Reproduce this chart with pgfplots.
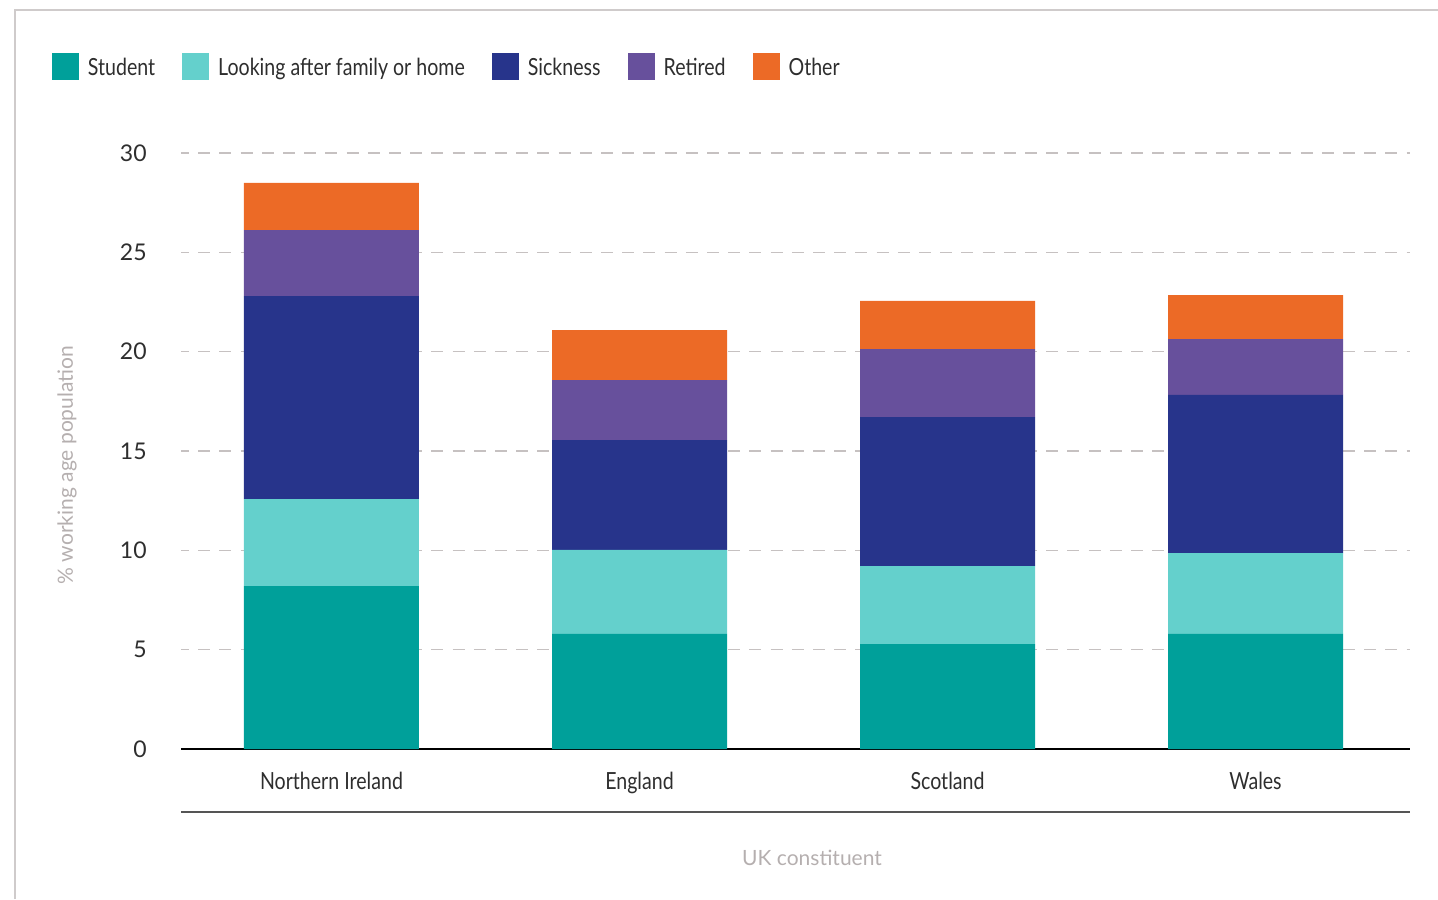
\documentclass[border=0pt]{standalone}
\usepackage{pgfplots}
\pgfplotsset{compat=1.18}
\usepackage{fontspec}
\setmainfont{Lato}
\newfontfamily\narrowfont{Lato}[FakeStretch=0.83]
\definecolor{cStudent}{HTML}{00A09A}
\definecolor{cLook}{HTML}{64D0CC}
\definecolor{cSick}{HTML}{27348B}
\definecolor{cRet}{HTML}{67509C}
\definecolor{cOther}{HTML}{EC6A26}
\definecolor{cText}{HTML}{2E2E2E}
\definecolor{cGrid}{HTML}{C6C1C1}
\definecolor{cLabel}{HTML}{B5AFAF}
\definecolor{cFrame}{HTML}{CFCBCB}
\definecolor{cLine}{HTML}{555555}
\begin{document}
\begin{tikzpicture}
\useasboundingbox (0,0) rectangle (719pt,449.5pt);
\draw[cFrame, line width=0.7pt] (7.5pt,0pt) -- (7.5pt,444.5pt) -- (719pt,444.5pt);
\begin{axis}[
  at={(90.5pt,75pt)}, anchor=south west,
  scale only axis, width=614.5pt, height=298pt,
  ybar stacked, bar width=87.5pt,
  xmin=-0.4886, xmax=3.5016, ymin=0, ymax=30,
  xtick=data, xticklabels={Northern Ireland,England,Scotland,Wales},
  ytick={0,5,10,15,20,25,30},
  axis x line*=bottom, axis y line*=left,
  y axis line style={draw=none},
  x axis line style={line width=1pt, black},
  major tick length=0pt,
  tick style={draw=none},
  ymajorgrids,
  grid style={cGrid, line width=0.65pt, dash pattern=on 6pt off 4.6pt, dash phase=2pt},
  ticklabel style={text=cText, inner sep=0pt},
  yticklabel style={anchor=east, xshift=-17pt, font=\fontsize{11.5}{13}\selectfont},
  xticklabel style={anchor=north, yshift=-11.5pt, font=\narrowfont\fontsize{11.8}{13}\selectfont},
  /pgf/number format/assume math mode=true,
  legend columns=5,
  legend cell align=left,
  legend style={draw=none, fill=none, inner sep=0pt, outer sep=0pt, anchor=west, at={(-0.105,1.1443)},
    font=\narrowfont\fontsize{11.8}{13}\selectfont, text=cText,
    /tikz/every odd column/.append style={column sep=4.5pt},
    /tikz/every even column/.append style={column sep=13.5pt},
    nodes={inner sep=0pt, text depth=0pt}},
  legend image code/.code={\fill[#1] (0pt,-6.75pt) rectangle (13.5pt,6.75pt);},
  clip=false,
]
\addplot[fill=cStudent, draw=none] coordinates {(0,8.20) (1,5.79) (2,5.28) (3,5.79)};
\addplot[fill=cLook, draw=none] coordinates {(0,4.38) (1,4.23) (2,3.93) (3,4.07)};
\addplot[fill=cSick, draw=none] coordinates {(0,10.22) (1,5.53) (2,7.50) (3,7.96)};
\addplot[fill=cRet, draw=none] coordinates {(0,3.32) (1,3.02) (2,3.42) (3,2.81)};
\addplot[fill=cOther, draw=none] coordinates {(0,2.37) (1,2.52) (2,2.42) (3,2.22)};
\legend{Student,Looking after family or home,Sickness,Retired,Other}
\draw[cLine, line width=0.9pt] ([yshift=-31.5pt]rel axis cs:0,0) -- ([yshift=-31.5pt]rel axis cs:1,0);
\end{axis}
\node[text=cLabel, font=\fontsize{10.5}{12}\selectfont] at (406pt,20.5pt) {UK constituent};
\node[text=cLabel, font=\fontsize{10.5}{12}\selectfont, rotate=90] at (33.5pt,217pt) {\% working age population};
\end{tikzpicture}
\end{document}
